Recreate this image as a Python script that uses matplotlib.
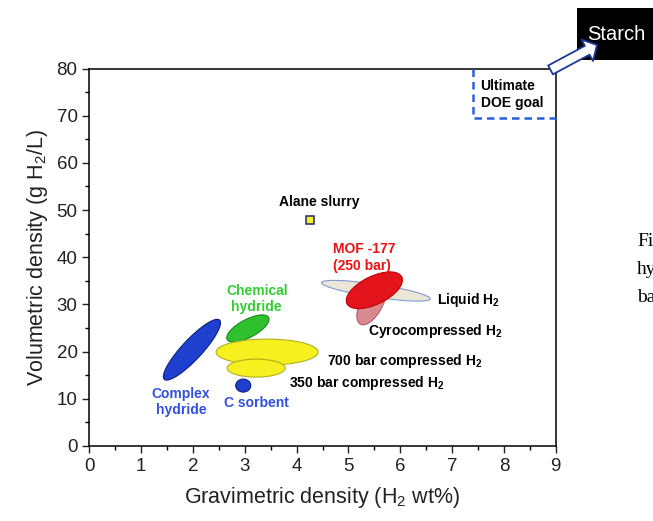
import matplotlib
matplotlib.use("Agg")
import matplotlib.pyplot as plt
from matplotlib.patches import Ellipse, Rectangle
from matplotlib.transforms import ScaledTranslation

plt.rcParams["font.family"] = ["Liberation Sans", "DejaVu Sans"]
plt.rcParams["mathtext.fontset"] = "custom"
plt.rcParams["mathtext.rm"] = "Liberation Sans"
plt.rcParams["mathtext.bf"] = "Liberation Sans:bold"

# storage regions: centre (wt%, g/L), drawn size (px) and tilt (deg)
regions = ["Liquid H2", "Cryocompressed H2", "MOF-177", "Complex hydride",
           "Chemical hydride", "700 bar", "350 bar", "C sorbent"]
grav = [5.53, 5.45, 5.50, 1.98, 3.06, 3.43, 3.22, 2.97]
vol = [32.9, 30.3, 33.0, 20.4, 24.9, 19.9, 16.5, 12.8]
major_px = [110, 48, 61, 81, 47, 102, 58, 15]
minor_px = [13, 22, 28, 20, 18, 26, 18, 13]
tilt = [-8.5, 62, 26, 47, 28, 0, 0, 0]
fills = ["#ebe6d6", "#d98a90", "#e3141b", "#1f3fcf", "#2fc02f", "#f5f01e", "#f5f01e", "#1f3fcf"]
edges = ["#7f9bd6", "#b85a66", "#c00000", "#0a1f80", "#1a8a1a", "#b0b020", "#b0b020", "#0a1f80"]
order = [1, 2, 3, 2, 1, 3, 4, 2]

alane_x, alane_y = 4.25, 47.9

fig = plt.figure(figsize=(6.53, 5.21), dpi=100)
ax = fig.add_axes([0.1368, 0.1440, 0.7142, 0.7245])

for i in range(len(regions)):
    tr = fig.dpi_scale_trans + ScaledTranslation(grav[i], vol[i], ax.transData)
    ax.add_patch(Ellipse((0, 0), major_px[i] / 100, minor_px[i] / 100, angle=tilt[i],
                         transform=tr, fc=fills[i], ec=edges[i], lw=0.8, zorder=order[i]))

ax.plot([alane_x], [alane_y], "s", ms=5.5, mfc="#f5f01e", mec="#1a2a80", mew=1.1, zorder=5)

bold = dict(fontsize=10, fontweight="bold")
ax.text(4.43, 51.7, "Alane slurry", ha="center", va="center", color="black", **bold)
ax.text(4.70, 39.9, "MOF -177\n(250 bar)", ha="left", va="center", color="#ee1111",
        linespacing=1.3, **bold)
ax.text(3.23, 31.2, "Chemical\nhydride", ha="center", va="center", color="#33cc33",
        linespacing=1.2, **bold)
ax.text(6.70, 30.9, "Liquid H$_\\mathbf{2}$", ha="left", va="center", **bold)
ax.text(5.38, 24.4, "Cyrocompressed H$_\\mathbf{2}$", ha="left", va="center", **bold)
ax.text(4.58, 18.0, "700 bar compressed H$_\\mathbf{2}$", ha="left", va="center", **bold)
ax.text(3.86, 13.35, "350 bar compressed H$_\\mathbf{2}$", ha="left", va="center", **bold)
ax.text(1.77, 9.4, "Complex\nhydride", ha="center", va="center", color="#3050e0",
        linespacing=1.2, **bold)
ax.text(3.22, 9.2, "C sorbent", ha="center", va="center", color="#3050e0", **bold)

# ultimate DOE goal box
ax.plot([7.4, 7.4, 9.0], [80, 69.5, 69.5], ls=(0, (3, 2)), color="#2a5ee0", lw=1.8,
        clip_on=False, zorder=6)
ax.text(7.55, 74.5, "Ultimate\nDOE goal", ha="left", va="center", linespacing=1.25, **bold)

ax.set_xlim(0, 9)
ax.set_ylim(0, 80)
ax.set_xticks(range(0, 10))
ax.set_xticks([i + 0.5 for i in range(9)], minor=True)
ax.set_yticks(range(0, 81, 10))
ax.set_yticks(range(5, 80, 10), minor=True)
ax.tick_params(which="major", direction="out", length=5, width=1, labelsize=13.5, colors="#222222")
ax.tick_params(which="minor", direction="out", length=3, width=1)
for s in ax.spines.values():
    s.set_linewidth(1.1)
ax.set_xlabel("Gravimetric density (H$_2$ wt%)", fontsize=15.5, color="#222222", labelpad=7)
ax.set_ylabel("Volumetric density (g H$_2$/L)", fontsize=15.5, color="#222222", labelpad=5)

# starch box with outlined arrow from the top-right corner
ax.add_patch(Rectangle((577 / 653, 1 - 60 / 521), 0.2, 52 / 521, transform=fig.transFigure,
                       fc="black", ec="none", clip_on=False, zorder=8))
ax.annotate("", xy=(597 / 653, 1 - 45 / 521), xycoords="figure fraction",
            xytext=(8.9, 79.7), textcoords="data",
            arrowprops=dict(arrowstyle="simple,head_length=0.8,head_width=1.75,tail_width=0.72",
                            fc="white", ec="#1a3a9a", lw=1.3, shrinkA=0, shrinkB=0),
            annotation_clip=False, zorder=10)
ax.text(616 / 653, 1 - 34 / 521, "Starch", transform=fig.transFigure, color="white",
        fontsize=14.5, ha="center", va="center", zorder=11, clip_on=False)

# cut-off caption text on the right
serif = ["Liberation Serif", "DejaVu Serif"]
fig.text(637 / 653, 1 - 242 / 521, "Fi", family=serif, fontsize=14, va="center")
fig.text(637 / 653, 1 - 270 / 521, "hy", family=serif, fontsize=14, va="center")
fig.text(637 / 653, 1 - 297 / 521, "ba", family=serif, fontsize=14, va="center")

fig.savefig("out.png", dpi=100)
